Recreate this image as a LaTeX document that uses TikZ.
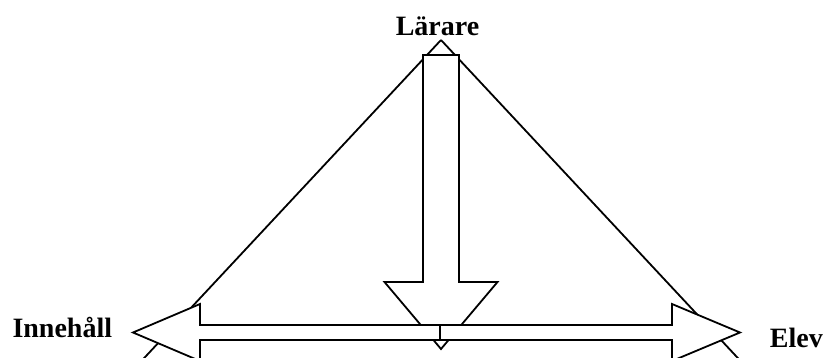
\documentclass[tikz,border=0pt]{standalone}
\usepackage{fontspec}
\setmainfont{Liberation Serif}

\begin{document}
\begin{tikzpicture}[x=1pt,y=-1pt,line width=1.8pt,
  every node/.style={font=\fontsize{28}{30}\selectfont\bfseries,inner sep=0pt},
  blockarrow/.style={draw,fill=white,line join=miter}]
  \useasboundingbox (0,0) rectangle (824,358);
  \clip (0,0) rectangle (824,358);
  \coordinate (apex) at (441,40);
  \coordinate (mid) at (440,332.5);
  % triangle sides
  \draw (apex) -- (105,400);
  \draw (apex) -- (777,400);
  % teacher arrow
  \draw[blockarrow] (423,55) -- (459,55) -- (459,282) -- (497.5,282)
    -- (441,349) -- (384.5,282) -- (423,282) -- cycle;
  % content and pupil arrows
  \draw[blockarrow] (mid) ++(0,-7.5) -- (200,325) -- (200,304) -- (133,332.5)
    -- (200,361) -- (200,340) -- (440,340) -- cycle;
  \draw[blockarrow] (mid) ++(0,-7.5) -- (672,325) -- (672,304) -- (740,332.5)
    -- (672,361) -- (672,340) -- (440,340) -- cycle;
  \node[anchor=base] (larare) at (437.5,36) {Lärare};
  \node[anchor=base east] (innehall) at (113,337) {Innehåll};
  \node[anchor=base west] (elev) at (769,347) {Elev};
\end{tikzpicture}
\end{document}
